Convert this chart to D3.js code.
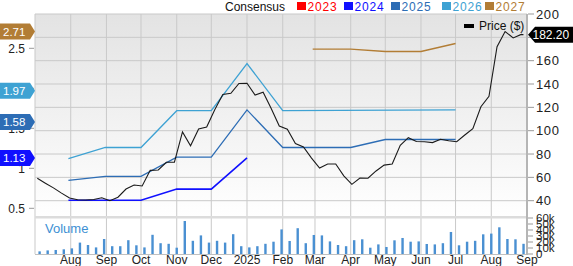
<!DOCTYPE html>
<html><head><meta charset="utf-8">
<script src="https://cdn.jsdelivr.net/npm/d3@7/dist/d3.min.js"></script>
<style>body{margin:0;background:#fff}svg{display:block;font-family:"Liberation Sans",Arial,sans-serif}</style>
</head><body><svg id="c" width="573" height="266"></svg>
<script>
// ---- data ----
const priceStart = "2024-07-03"; // weekly closes
const priceValues = [59.2,55,51,46.5,42.3,40.8,40.6,41,42.5,40,43,50,53.4,52.6,66,66.3,72.9,73,99,87,101.5,103.2,118,131,132,140.5,140.6,130.5,133,119,104,101.2,89,86,76.5,68,71.5,71.4,61.3,54,59.5,59.3,65.5,70.5,71.4,87.5,94,90.7,90.5,89.8,92.6,91.4,90.5,96.3,101.8,120.5,129.5,172,185,179.5,182.5];
const priceLastDate = "2025-08-29";
const priceLast = 182.20;

const volumeStart = "2024-07-05"; // weekly volume (thousands)
const volumeValues = [4.4,6,6.7,7.8,9.4,19,15,11,25,13,13,23,14.5,11,32,18,17,10.5,55,22,31,19,22,19,33,13,11,13,17,20.5,41,21.7,43,18,31.7,31,21,15,13,23,24.5,10.5,16,11.7,22.8,26.7,20.5,21,16.7,16,18,36.7,14.5,20.5,22,32.8,34,44.5,25,24.5,17];

const eps2024Dates = ["2024-07-30","2024-10-01","2024-11-01","2024-12-01","2025-01-01"];
const eps2024 = [0.6,0.6,0.74,0.74,1.13];
const eps2025Dates = ["2024-07-30","2024-08-31","2024-10-01","2024-11-01","2024-12-01","2025-01-01","2025-02-01","2025-04-01","2025-05-01","2025-07-01"];
const eps2025 = [0.85,0.9,0.9,1.14,1.14,1.73,1.26,1.26,1.36,1.36];
const eps2026Dates = ["2024-07-30","2024-08-31","2024-10-01","2024-11-01","2024-12-01","2025-01-01","2025-02-01","2025-07-01"];
const eps2026 = [1.12,1.26,1.26,1.72,1.72,2.31,1.72,1.73];
const eps2027Dates = ["2025-02-27","2025-04-01","2025-05-01","2025-06-01","2025-07-01"];
const eps2027 = [2.49,2.49,2.46,2.46,2.56];

const badgeYears = ["2027","2026","2025","2024"];
const badgeValues = [2.71,1.97,1.58,1.13];
const legendYears = ["2023","2024","2025","2026","2027"];
const colors = {"2023":"#ff0000","2024":"#1010ff","2025":"#2d6db5","2026":"#3ea2d3","2027":"#b27d35"};

const monthTicks = ["2024-08-01","2024-09-01","2024-10-01","2024-11-01","2024-12-01","2025-01-01","2025-02-01","2025-03-01","2025-04-01","2025-05-01","2025-06-01","2025-07-01","2025-08-01","2025-09-01"];
const monthLabels = ["Aug","Sep","Oct","Nov","Dec","2025","Feb","Mar","Apr","May","Jun","Jul","Aug","Sep"];
const priceTicks = [40,60,80,100,120,140,160,180,200];
const epsTicks = [0.5,1,1.5,2,2.5];
const volTicks = [0,10,20,30,40,50,60];

// ---- layout ----
const L=35, R=527, T=14, MB=217, VT=218, VB=254;
const parse = d3.utcParse("%Y-%m-%d");
const addDays=(d,n)=>new Date(d.getTime()+n*864e5);
const x = d3.scaleUtc().domain([parse("2024-07-01"),parse("2025-09-01")]).range([L,R]);
const yP = d3.scaleLinear().domain([40,200]).range([200.7,T]);
const yE = d3.scaleLinear().domain([0.5,2.5]).range([208.3,48.3]);
const yV = d3.scaleLinear().domain([0,60]).range([VB,VT]);

const svg = d3.select("#c");
const defs = svg.append("defs");
const g = defs.append("linearGradient").attr("id","bg").attr("x1",0).attr("x2",0).attr("y1",0).attr("y2",1);
g.append("stop").attr("offset","0").attr("stop-color","#e3e3e3");
g.append("stop").attr("offset","1").attr("stop-color","#ffffff");
svg.append("rect").attr("x",L).attr("y",T).attr("width",R-L).attr("height",MB-T).attr("fill","url(#bg)");

// grid
svg.append("g").selectAll("line").data(priceTicks).join("line")
  .attr("x1",L).attr("x2",R).attr("y1",d=>yP(d)).attr("y2",d=>yP(d)).attr("stroke","#c9c9c9");
svg.append("g").selectAll("line").data(monthTicks).join("line")
  .attr("x1",d=>x(parse(d))).attr("x2",d=>x(parse(d))).attr("y1",T).attr("y2",VB).attr("stroke","#c9c9c9");
svg.append("line").attr("x1",L).attr("x2",L).attr("y1",T).attr("y2",VB).attr("stroke","#c9c9c9");
svg.append("rect").attr("x",L).attr("y",MB-1).attr("width",R-L).attr("height",2.5).attr("fill","#dcdcdc");
svg.append("line").attr("x1",L).attr("x2",R).attr("y1",VB+0.5).attr("y2",VB+0.5).attr("stroke","#c0c0c0");
svg.append("line").attr("x1",R).attr("x2",R).attr("y1",T).attr("y2",VB+1).attr("stroke","#b5b5b5").attr("stroke-width",2);

// volume
svg.append("text").attr("x",45).attr("y",233).attr("fill","#3d8fd3").attr("font-size",13).text("Volume");
const v0 = parse(volumeStart);
svg.append("g").selectAll("rect").data(volumeValues).join("rect")
  .attr("x",(d,i)=>x(addDays(v0,7*i))-1.2).attr("width",2.4)
  .attr("y",d=>yV(d)).attr("height",d=>yV(0)-yV(d)).attr("fill","#4a90d2");

// eps lines
const eline = d3.line().x(d=>x(d[0])).y(d=>yE(d[1]));
function drawEps(dates, vals, col, w){
  svg.append("path").datum(dates.map((d,i)=>[parse(d),vals[i]])).attr("d",eline)
    .attr("fill","none").attr("stroke",col).attr("stroke-width",w);
}
drawEps(eps2026Dates,eps2026,colors["2026"],1.3);
drawEps(eps2025Dates,eps2025,colors["2025"],1.3);
drawEps(eps2024Dates,eps2024,colors["2024"],1.6);
drawEps(eps2027Dates,eps2027,colors["2027"],1.3);

// price line
const p0 = parse(priceStart);
const pdata = priceValues.map((v,i)=>[addDays(p0,7*i),v]);
pdata.push([parse(priceLastDate),priceLast]);
svg.append("path").datum(pdata).attr("d",d3.line().x(d=>x(d[0])).y(d=>yP(d[1])))
  .attr("fill","none").attr("stroke","#1a1a1a").attr("stroke-width",1.1);

// right price axis
const ra = svg.append("g");
priceTicks.forEach(t=>{
  ra.append("line").attr("x1",R+1).attr("x2",R+7).attr("y1",yP(t)).attr("y2",yP(t)).attr("stroke","#999");
  ra.append("text").attr("x",536).attr("y",yP(t)+4.5).attr("font-size",13).attr("letter-spacing",0.6).attr("fill","#222").text(t);
});
volTicks.forEach(t=>{
  ra.append("line").attr("x1",R+1).attr("x2",R+6).attr("y1",yV(t)).attr("y2",yV(t)).attr("stroke","#999");
  ra.append("text").attr("x",536).attr("y",yV(t)+4).attr("font-size",11.5).attr("fill","#222").text(t===0?"0":t+"k");
});
// left eps axis
epsTicks.forEach(t=>{
  svg.append("line").attr("x1",29).attr("x2",34).attr("y1",yE(t)).attr("y2",yE(t)).attr("stroke","#999");
  svg.append("text").attr("x",25).attr("y",yE(t)+4.5).attr("text-anchor","end").attr("font-size",12).attr("fill","#222").text(t);
});
// month labels
svg.append("g").selectAll("text").data(monthTicks).join("text")
  .attr("x",d=>x(parse(d))).attr("y",264).attr("text-anchor","middle").attr("font-size",12).attr("fill","#222")
  .text((d,i)=>monthLabels[i]);

// badges
badgeValues.forEach((v,i)=>{
  const y=yE(v), c=colors[badgeYears[i]];
  svg.append("path").attr("d",`M0,${y-8}H30L35,${y}L30,${y+8}H0Z`).attr("fill",c);
  svg.append("text").attr("x",3).attr("y",y+4.2).attr("fill","#fff").attr("font-size",11.5).text(v.toFixed(2));
});
{
  const y=yP(priceLast);
  svg.append("path").attr("d",`M528,${y}L535,${y-8}H573V${y+8}H535Z`).attr("fill","#000");
  svg.append("text").attr("x",532.5).attr("y",y+4.3).attr("fill","#fff").attr("font-size",12).text(priceLast.toFixed(2));
}

// legends
svg.append("text").attr("x",225).attr("y",10.5).attr("font-size",12).attr("fill","#111").text("Consensus");
const lx=[297,344,391,442,485];
legendYears.forEach((yr,i)=>{
  svg.append("rect").attr("x",lx[i]).attr("y",2).attr("width",9).attr("height",8).attr("fill",colors[yr]);
  svg.append("text").attr("x",lx[i]+10.5).attr("y",10.5).attr("font-size",12).attr("letter-spacing",0.8).attr("fill",colors[yr]).text(yr);
});
svg.append("rect").attr("x",464).attr("y",24).attr("width",10).attr("height",4).attr("fill","#000");
svg.append("text").attr("x",479).attr("y",29.5).attr("font-size",12).attr("fill","#111").text("Price ($)");
</script></body></html>
